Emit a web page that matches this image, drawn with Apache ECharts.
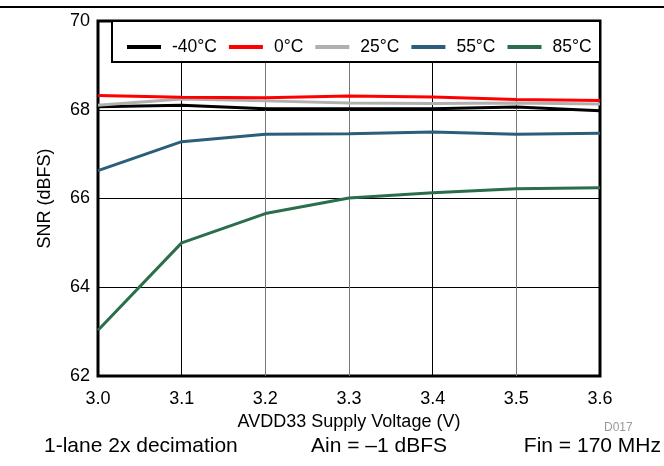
<!DOCTYPE html>
<html>
<head>
<meta charset="utf-8">
<script src="https://cdn.jsdelivr.net/npm/echarts@6/dist/echarts.min.js"></script>
<style>html,body{margin:0;padding:0;background:#fff}#c{width:664px;height:466px}</style>
</head>
<body>
<div id="c"></div>
<script>
const voltages = [3.0, 3.1, 3.2, 3.3, 3.4, 3.5, 3.6];
const seriesNames = ['-40°C', '0°C', '25°C', '55°C', '85°C'];
const snrM40 = [68.07, 68.10, 68.02, 68.02, 68.02, 68.06, 67.98];
const snr0 = [68.32, 68.28, 68.27, 68.31, 68.29, 68.23, 68.21];
const snr25 = [68.10, 68.24, 68.20, 68.15, 68.14, 68.15, 68.13];
const snr55 = [66.63, 67.28, 67.45, 67.46, 67.50, 67.45, 67.47];
const snr85 = [63.03, 65.00, 65.66, 66.01, 66.13, 66.22, 66.24];
const seriesValues = [snrM40, snr0, snr25, snr55, snr85];
const colors = ['#000000', '#ff0000', '#b0b0b0', '#2a5e7a', '#2b6e4c'];
const yTicks = [62, 64, 66, 68, 70];

const chart = echarts.init(document.getElementById('c'), null, {renderer: 'canvas'});
const font = 'Liberation Sans, Arial, sans-serif';
chart.setOption({
  animation: false,
  backgroundColor: '#fff',
  grid: {left: 98, right: 64, top: 21, bottom: 90, show: true, borderColor: '#000', borderWidth: 3, backgroundColor: 'transparent'},
  legend: {
    data: seriesNames,
    left: 122, top: 33, z: 60,
    itemWidth: 34, itemHeight: 4, itemGap: 12,
    icon: 'rect',
    textStyle: {fontFamily: font, fontSize: 17.5, color: '#000', padding: [0, 0, 0, 6]},
    selectedMode: false
  },
  graphic: [
    {type: 'line', shape: {x1: 0, y1: 7, x2: 664, y2: 7}, style: {stroke: '#000', lineWidth: 2}, z: 100},
    {type: 'rect', shape: {x: 112, y: 21, width: 488, height: 41}, style: {fill: '#fff', stroke: '#000', lineWidth: 2}, z: 5},
    {type: 'text', left: 604, top: 422, style: {text: 'D017', fill: '#999', font: '12px ' + font}},
    {type: 'text', left: 44, top: 436, style: {text: '1-lane 2x decimation', fill: '#000', font: '21px ' + font}},
    {type: 'text', left: 311, top: 436, style: {text: 'Ain = \u20131 dBFS', fill: '#000', font: '21px ' + font}},
    {type: 'text', right: 3, top: 436, style: {text: 'Fin = 170 MHz', fill: '#000', font: '21px ' + font}}
  ],
  xAxis: {
    type: 'value', min: 3.0, max: 3.6, interval: 0.1,
    name: 'AVDD33 Supply Voltage (V)', nameLocation: 'middle', nameGap: 28,
    nameTextStyle: {fontFamily: font, fontSize: 18, color: '#000'},
    axisLine: {show: false}, axisTick: {show: false},
    axisLabel: {fontFamily: font, fontSize: 18, color: '#000', margin: 14, formatter: v => v.toFixed(1)},
    splitLine: {show: true, lineStyle: {color: ['#000', '#000', '#777', '#777', '#000', '#777', '#000'], width: 1}}
  },
  yAxis: {
    type: 'value', min: 62, max: 70, interval: 2,
    name: 'SNR (dBFS)', nameLocation: 'middle', nameGap: 44,
    nameTextStyle: {fontFamily: font, fontSize: 18, color: '#000'},
    axisLine: {show: false}, axisTick: {show: false},
    axisLabel: {fontFamily: font, fontSize: 18, color: '#000', margin: 8, formatter: v => yTicks.includes(v) ? String(v) : ''},
    splitLine: {show: true, lineStyle: {color: '#000', width: 1}}
  },
  series: seriesNames.map((n, i) => ({
    name: n, type: 'line', symbol: 'none', color: colors[i],
    lineStyle: {width: 3, color: colors[i]},
    data: voltages.map((v, j) => [v, seriesValues[i][j]]),
    z: 10 + (i === 2 ? 0 : i)
  }))
});
</script>
</body>
</html>
